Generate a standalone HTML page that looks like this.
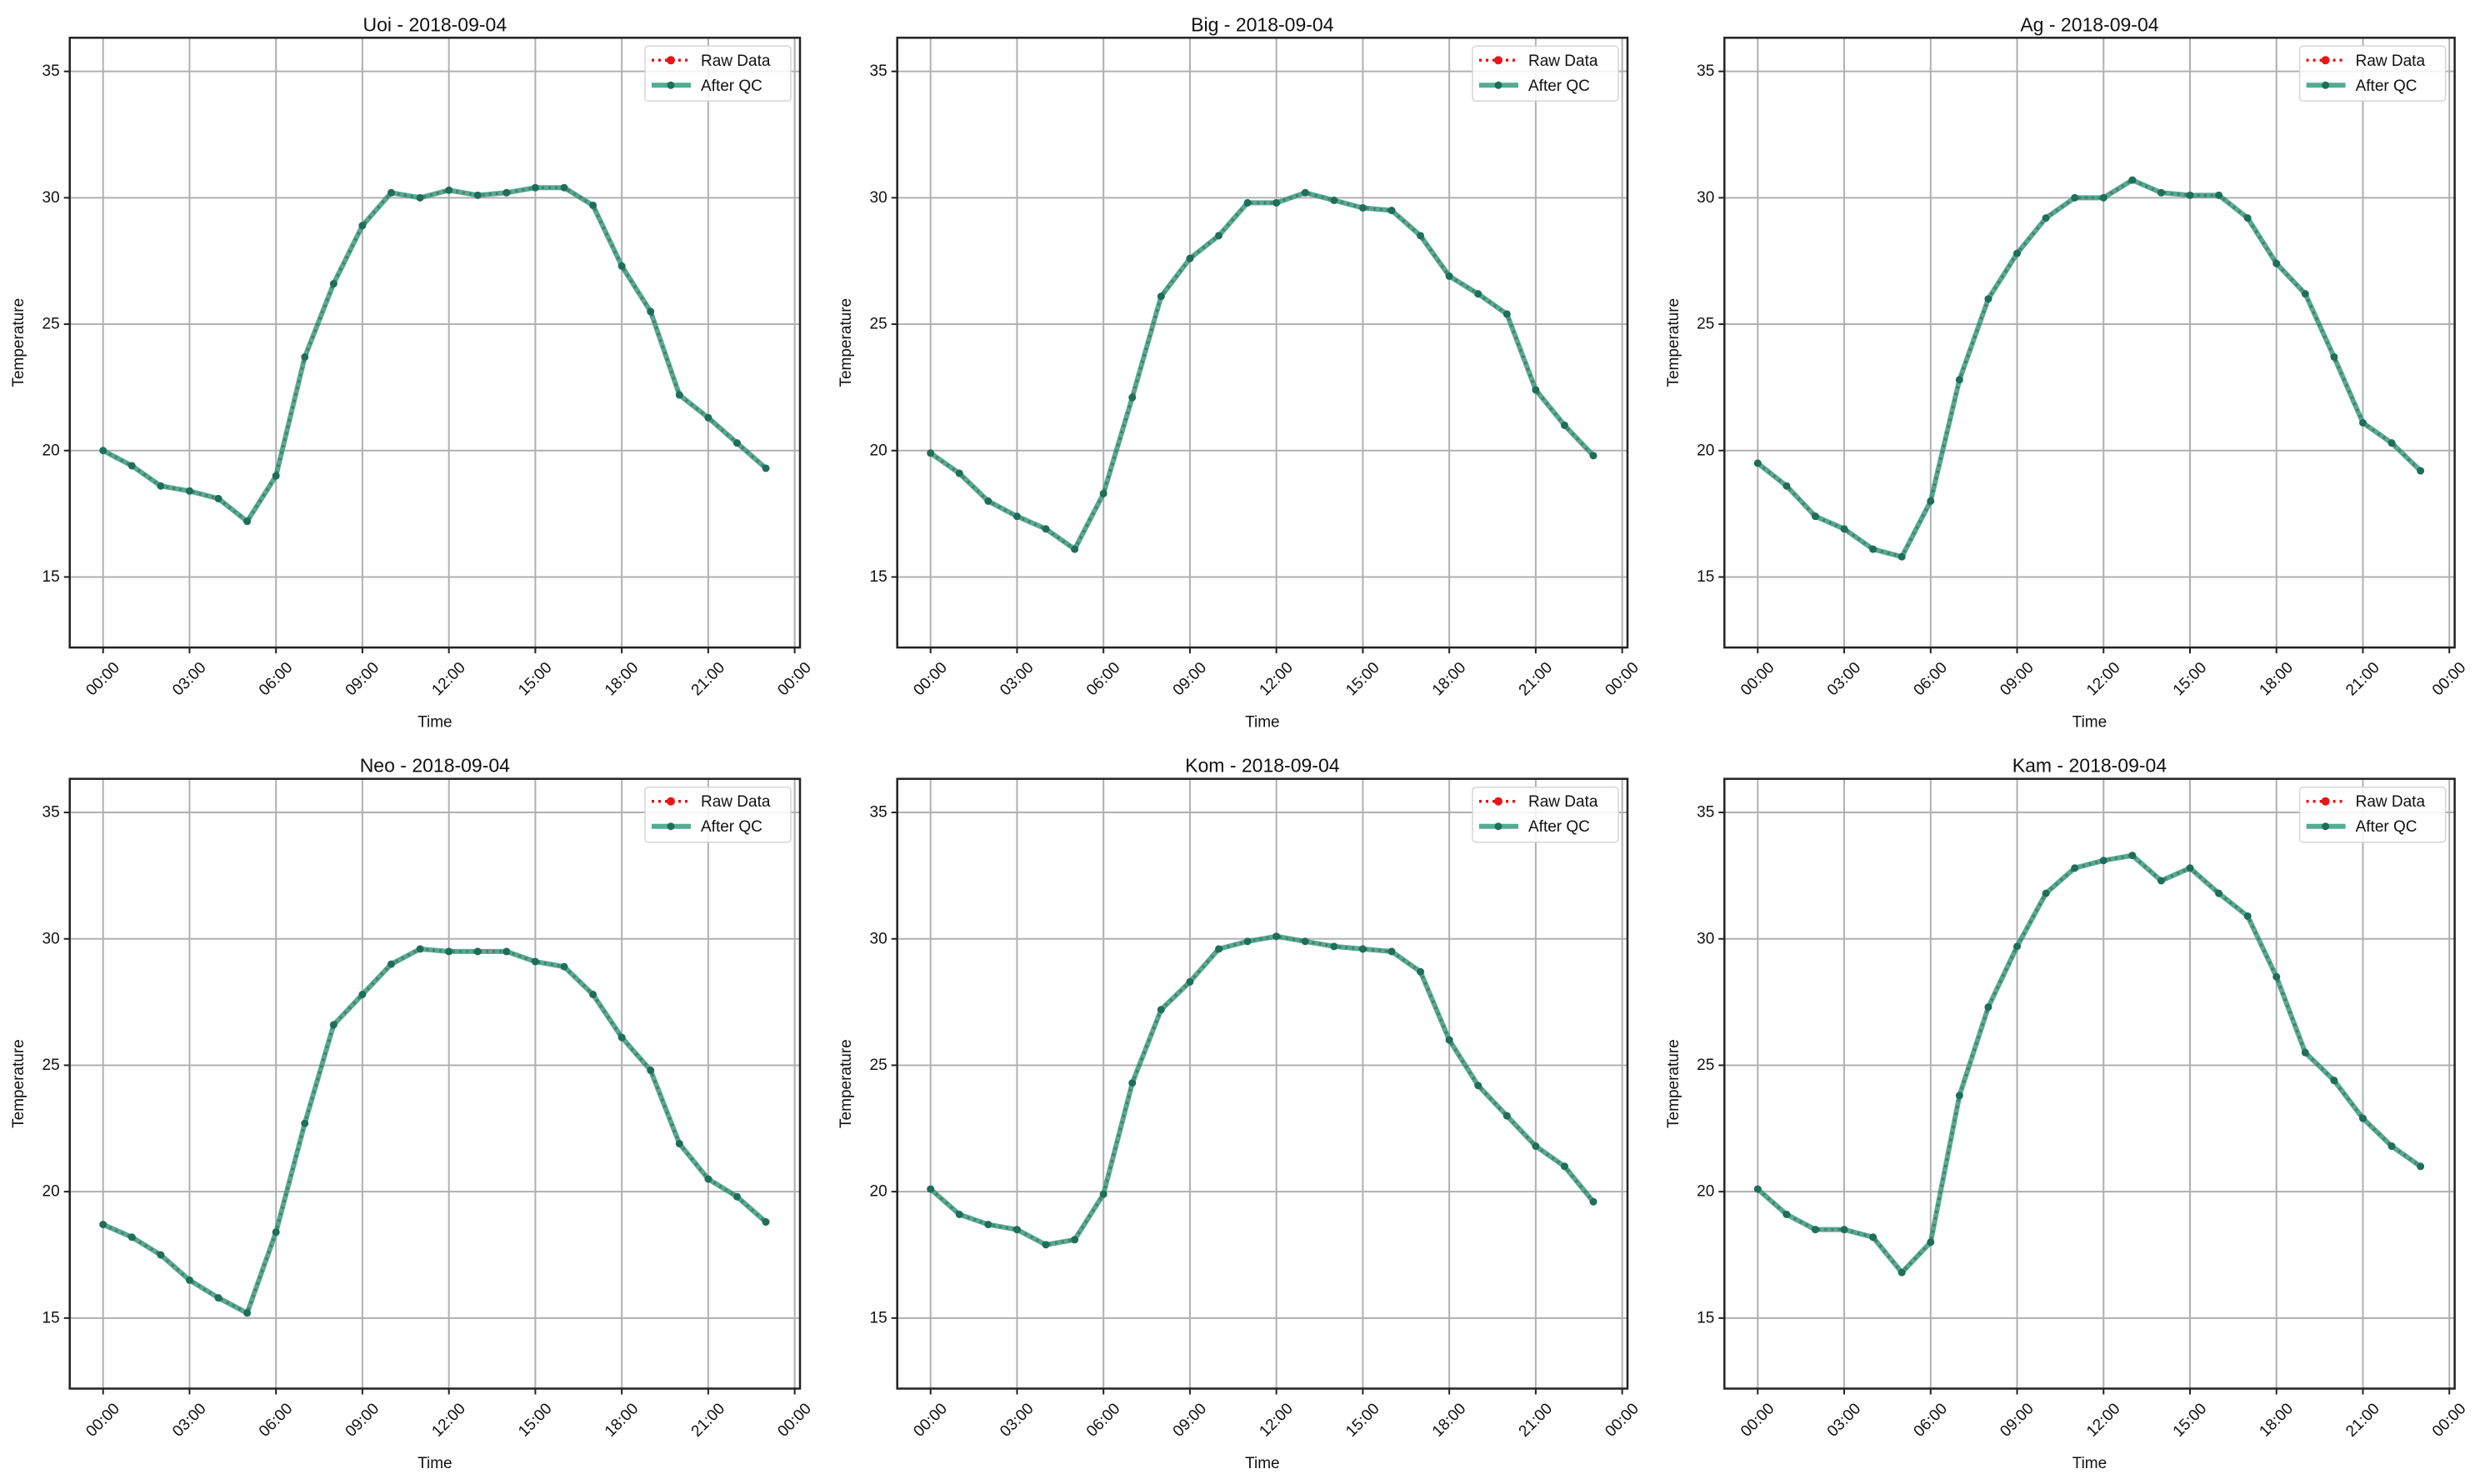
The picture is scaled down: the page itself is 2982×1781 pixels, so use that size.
<!DOCTYPE html>
<html><head><meta charset="utf-8"><style>
body{margin:0;background:#fff}
svg{display:block;font-family:"Liberation Sans","DejaVu Sans",sans-serif}
</style></head><body>
<svg id="fig" width="2982" height="1781" viewBox="0 0 2982 1781" xmlns="http://www.w3.org/2000/svg"></svg>
<script>
const stations = ["Uoi","Big","Ag","Neo","Kom","Kam"];
const dateLabel = "2018-09-04";
const hours = [0,1,2,3,4,5,6,7,8,9,10,11,12,13,14,15,16,17,18,19,20,21,22,23];
const uoi = [20.0,19.4,18.6,18.4,18.1,17.2,19.0,23.7,26.6,28.9,30.2,30.0,30.3,30.1,30.2,30.4,30.4,29.7,27.3,25.5,22.2,21.3,20.3,19.3];
const big = [19.9,19.1,18.0,17.4,16.9,16.1,18.3,22.1,26.1,27.6,28.5,29.8,29.8,30.2,29.9,29.6,29.5,28.5,26.9,26.2,25.4,22.4,21.0,19.8];
const ag  = [19.5,18.6,17.4,16.9,16.1,15.8,18.0,22.8,26.0,27.8,29.2,30.0,30.0,30.7,30.2,30.1,30.1,29.2,27.4,26.2,23.7,21.1,20.3,19.2];
const neo = [18.7,18.2,17.5,16.5,15.8,15.2,18.4,22.7,26.6,27.8,29.0,29.6,29.5,29.5,29.5,29.1,28.9,27.8,26.1,24.8,21.9,20.5,19.8,18.8];
const kom = [20.1,19.1,18.7,18.5,17.9,18.1,19.9,24.3,27.2,28.3,29.6,29.9,30.1,29.9,29.7,29.6,29.5,28.7,26.0,24.2,23.0,21.8,21.0,19.6];
const kam = [20.1,19.1,18.5,18.5,18.2,16.8,18.0,23.8,27.3,29.7,31.8,32.8,33.1,33.3,32.3,32.8,31.8,30.9,28.5,25.5,24.4,22.9,21.8,21.0];
const seriesList = [uoi,big,ag,neo,kom,kam];
const xTickHours = [0,3,6,9,12,15,18,21,24];
const xTickLabels = ["00:00","03:00","06:00","09:00","12:00","15:00","18:00","21:00","00:00"];
const yTicks = [15,20,25,30,35];

const NS="http://www.w3.org/2000/svg";
const fig=document.getElementById('fig');
function mk(tag,attrs,parent){const e=document.createElementNS(NS,tag);for(const k in attrs)e.setAttribute(k,attrs[k]);(parent||fig).appendChild(e);return e;}

const colLeft=[83.7,1076.7,2069.3], rowTop=[45.3,934.7];
const W=876.3, H=731.8;
const yMin=12.21, yMax=36.33;

stations.forEach((name,i)=>{
  const L=colLeft[i%3], T=rowTop[Math.floor(i/3)], R=L+W, B=T+H;
  const xs=h=>L+40+h*34.58;
  const ys=v=>B-(v-yMin)/(yMax-yMin)*H;
  const g=mk('g',{});
  
  
  // grid
  xTickHours.forEach((h,k)=>{
    const gl=mk('line',{x1:xs(h),x2:xs(h),y1:T,y2:B,stroke:'#b0b0b0','stroke-width':2},g);
    
    
    const tk=mk('line',{x1:xs(h),x2:xs(h),y1:B,y2:B+7,stroke:'#222','stroke-width':2},g);
    
    
    const cx=xs(h), cy=B+38;
    const t=mk('text',{x:cx,y:cy,'font-size':19,'text-anchor':'middle','dominant-baseline':'central',fill:'#111',transform:`rotate(-45 ${cx} ${cy})`},g);
    t.textContent=xTickLabels[k];
    
    
  });
  yTicks.forEach(v=>{
    const gl=mk('line',{x1:L,x2:R,y1:ys(v),y2:ys(v),stroke:'#b0b0b0','stroke-width':2},g);
    
    
    const tk=mk('line',{x1:L-7,x2:L,y1:ys(v),y2:ys(v),stroke:'#222','stroke-width':2},g);
    
    
    const t=mk('text',{x:L-12,y:ys(v),'font-size':19,'text-anchor':'end','dominant-baseline':'central',fill:'#111'},g);
    t.textContent=v;
    
    
  });
  const data=seriesList[i];
  const pts=hours.map((h,k)=>xs(h)+','+ys(data[k])).join(' ');
  const raw=mk('polyline',{points:pts,fill:'none',stroke:'#e8141a','stroke-width':3.5,'stroke-dasharray':'3 5'},g);
  
  
  const qc=mk('polyline',{points:pts,fill:'none',stroke:'#2a9678','stroke-opacity':0.8,'stroke-width':6,'stroke-linejoin':'round'},g);
  
  
  hours.forEach((h,k)=>{
    const c=mk('circle',{cx:xs(h),cy:ys(data[k]),r:4.5,fill:'#1f6e58'},g);
    
    
  });
  const fr=mk('rect',{x:L,y:T,width:W,height:H,fill:'none',stroke:'#222','stroke-width':2.5},g);
  
  
  const ti=mk('text',{x:L+W/2,y:T-16,'font-size':23,'text-anchor':'middle','dominant-baseline':'central',fill:'#111'},g);
  ti.textContent=name+' - '+dateLabel;
  
  
  const xl=mk('text',{x:L+W/2,y:B+90,'font-size':19,'text-anchor':'middle','dominant-baseline':'central',fill:'#111'},g);
  xl.textContent='Time';
  
  
  const yx=L-61, yy=T+H/2;
  const yl=mk('text',{x:yx,y:yy,'font-size':19,'text-anchor':'middle','dominant-baseline':'central',fill:'#111',transform:`rotate(-90 ${yx} ${yy})`},g);
  yl.textContent='Temperature';
  
  
  // legend
  const lg=mk('g',{},g);
  
  
  const lx=R-186, ly=T+10;
  mk('rect',{x:lx,y:ly,width:175,height:66,rx:4,fill:'#fff','fill-opacity':0.85,stroke:'#d6d6d6','stroke-width':1.5},lg);
  const l1=mk('line',{x1:lx+8,x2:lx+55,y1:ly+17,y2:ly+17,stroke:'#e8141a','stroke-width':3.5,'stroke-dasharray':'3 5'},lg);
  
  
  mk('circle',{cx:lx+31,cy:ly+17,r:5,fill:'#e8141a'},lg);
  const t1=mk('text',{x:lx+67,y:ly+18,'font-size':19,'dominant-baseline':'central',fill:'#111'},lg);
  t1.textContent='Raw Data';
  
  
  const l2=mk('line',{x1:lx+8,x2:lx+55,y1:ly+47,y2:ly+47,stroke:'#2a9678','stroke-opacity':0.8,'stroke-width':6},lg);
  
  
  mk('circle',{cx:lx+31,cy:ly+47,r:4.5,fill:'#1f6e58'},lg);
  const t2=mk('text',{x:lx+67,y:ly+48,'font-size':19,'dominant-baseline':'central',fill:'#111'},lg);
  t2.textContent='After QC';
  
  
});
</script>
</body></html>
